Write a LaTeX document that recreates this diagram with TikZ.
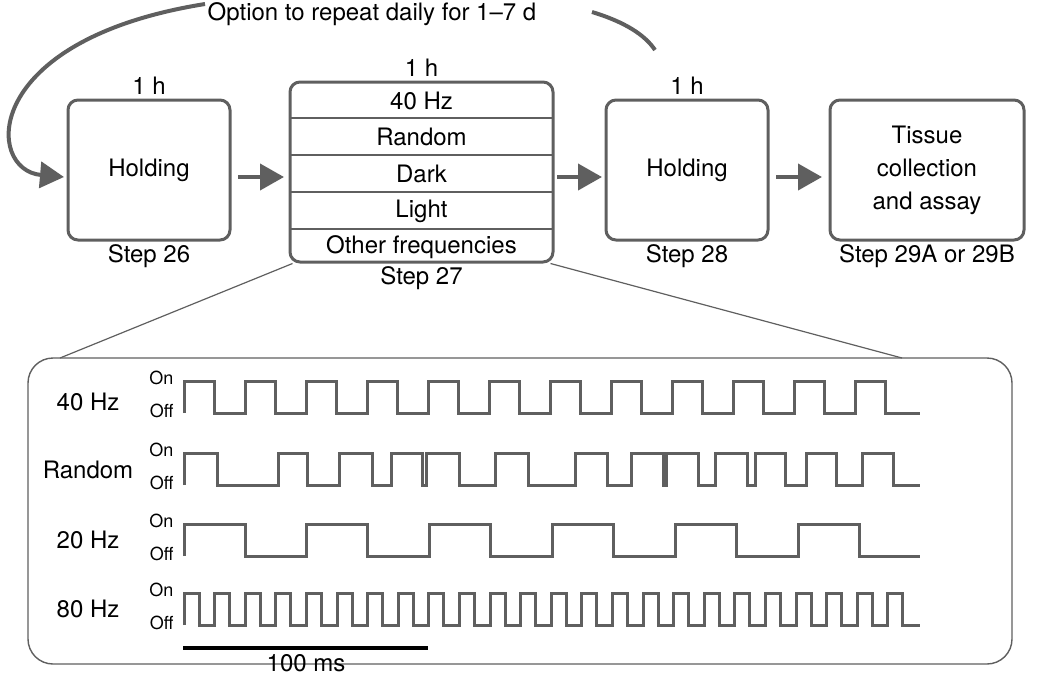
\documentclass[tikz,border=0pt]{standalone}
\usepackage{fontspec}
\setmainfont{TeX Gyre Heros}
\usetikzlibrary{arrows.meta,positioning}
\definecolor{boxgray}{RGB}{95,95,95}
\tikzset{
  box/.style={draw=boxgray,line width=3pt,rounded corners=10pt,minimum width=162pt,minimum height=140pt,align=center,font=\fontsize{24}{33}\selectfont},
  lbl/.style={font=\fontsize{24}{28}\selectfont},
  small/.style={font=\fontsize{18}{20}\selectfont},
  arr/.style={line width=4pt,draw=boxgray,-{Triangle[length=24pt,width=26pt]}},
  wave/.style={draw=boxgray,line width=3pt,line join=miter},
}
\begin{document}
\begin{tikzpicture}[x=1pt,y=-1pt]
  \useasboundingbox (0,0) rectangle (1040,678);

  % boxes
  \node[box] (H1) at (149,170) {Holding};
  \node[box,minimum width=263pt,minimum height=180pt] (S27) at (421.5,172) {};
  \node[box] (H2) at (687,170) {Holding};
  \node[box,minimum width=194pt] (T) at (927,170) {Tissue\\collection\\and assay};

  % rows of step 27
  \foreach \y in {118,155,192,229}
    \draw[boxgray,line width=1.6pt] (290,\y) -- (553,\y);
  \node[lbl] (r1) at (421.5,101) {40 Hz};
  \node[lbl] (r2) at (421.5,137) {Random};
  \node[lbl] (r3) at (421.5,174) {Dark};
  \node[lbl] (r4) at (421.5,211) {Light};
  \node[lbl] (r5) at (421.5,247) {Other frequencies};

  % durations and steps
  \node[lbl,above=0pt of H1] {1 h};
  \node[lbl,above=0pt of S27] {1 h};
  \node[lbl,above=0pt of H2] {1 h};
  \node[lbl,below=0pt of H1] {Step 26};
  \node[lbl,below=0pt of S27] {Step 27};
  \node[lbl,below=0pt of H2] {Step 28};
  \node[lbl,below=0pt of T] {Step 29A or 29B};

  % arrows
  \coordinate (a1) at (238,177);
  \coordinate (b1) at (284,177);
  \coordinate (a2) at (557,177);
  \coordinate (b2) at (602,177);
  \coordinate (a3) at (776,177);
  \coordinate (b3) at (822,177);
  \coordinate (b0) at (64,177);
  \draw[arr] (a1) -- (b1);
  \draw[arr] (a2) -- (b2);
  \draw[arr] (a3) -- (b3);

  % repeat loop
  \node[lbl] (rep) at (372,14) {Option to repeat daily for 1–7 d};
  \coordinate (c0) at (205,4);
  \coordinate (c1) at (592,12);
  \coordinate (c2) at (655,50);
  \draw[arr] (c0) .. controls (-20,40) and (-15,170) .. (b0);
  \draw[boxgray,line width=4pt] (c1) .. controls (625,22) and (645,35) .. (c2);

  % zoom panel
  \node[draw=boxgray,line width=1.4pt,rounded corners=25pt,minimum width=984pt,minimum height=306pt] (P) at (520,511) {};
  \coordinate (z1) at (60,358);
  \coordinate (z2) at (902,358);
  \draw[boxgray,line width=1.2pt] (S27.south west) ++(4,0) -- (z1);
  \draw[boxgray,line width=1.2pt] (S27.south east) ++(-4,0) -- (z2);

  % waveform labels
  \node[lbl] (w1) at (88,402) {40 Hz};
  \node[lbl] (w2) at (88,470) {Random};
  \node[lbl] (w3) at (88,540) {20 Hz};
  \node[lbl] (w4) at (88,609) {80 Hz};
  \foreach \on in {381,453,524,593}{
    \node[small,anchor=east] at (177,\on-3) {On};
    \node[small,anchor=east] at (177,\on+30) {Off};
  }

  % 40 Hz
  \draw[wave] (184,413) foreach \i in {0,...,11}
    {-- (184+61*\i,381) -- (214+61*\i,381) -- (214+61*\i,413) -- (245+61*\i,413)} -- (920,413);
  % random
  \draw[wave] (184,485) foreach \r/\f in {184/217,278/307,339/372,391/422,426/459,495/528,575/607,631/663,666/698,715/747,755/785,806/836,862/893}
    {-- (\r,485) -- (\r,453) -- (\f,453) -- (\f,485)} -- (920,485);
  % 20 Hz
  \draw[wave] (184,556) foreach \i in {0,...,5}
    {-- (184+122.8*\i,556) -- (184+122.8*\i,524) -- (245+122.8*\i,524) -- (245+122.8*\i,556)} -- (920,556);
  % 80 Hz
  \draw[wave] (184,625) foreach \i in {0,...,23}
    {-- (184+30.6*\i,625) -- (184+30.6*\i,593) -- (199+30.6*\i,593) -- (199+30.6*\i,625)} -- (920,625);

  % scale bar
  \coordinate (s1) at (183,648);
  \coordinate (s2) at (428,648);
  \draw[black,line width=3.5pt] (s1) -- (s2);
  \node[lbl] (sb) at (306,663) {100 ms};
\end{tikzpicture}
\end{document}
